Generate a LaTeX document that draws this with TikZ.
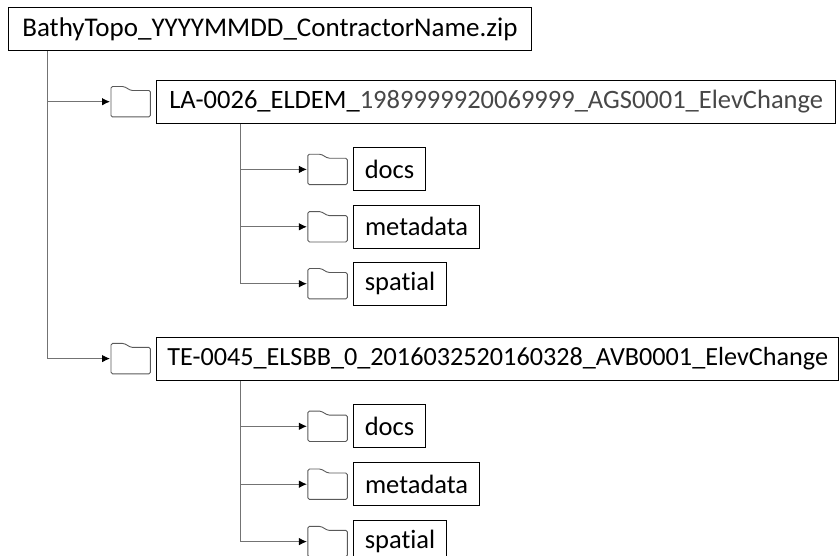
\documentclass[tikz,border=0pt]{standalone}
\usepackage{fontspec}
\setmainfont[Ligatures=NoCommon]{Carlito}
\usepackage{xcolor}
\colorlet{LINKCOLOR}{black!55}
\colorlet{FOLDERCOLOR}{black!65}
\colorlet{DATECOLOR}{black!72}
\usepackage{tikz}
\usetikzlibrary{arrows.meta,positioning}
\tikzset{
  box-style/.style = {
    rectangle, draw, line width=1pt,
    minimum height=43pt,
    inner xsep=0pt, inner ysep=0pt,
    minimum width=#1,
    font=\fontsize{26.5}{26.5}\selectfont
  },
  folder-style/.style = {
    rectangle, inner sep=0pt,
    minimum width=39pt, minimum height=30pt,
    append after command = {
      \pgfextra{
        \draw[FOLDERCOLOR,line width=0.9pt,rounded corners=1.5pt]
          (\tikzlastnode.south west) -- (\tikzlastnode.north west)
          -- ([xshift=13pt]\tikzlastnode.north west)
          -- ([xshift=20pt,yshift=-4pt]\tikzlastnode.north west)
          -- ([yshift=-4pt]\tikzlastnode.north east)
          -- (\tikzlastnode.south east) -- cycle;
      }
    }
  },
  link-style/.style = {
    draw=LINKCOLOR, line width=0.9pt,
    -{Latex[black,length=8pt,width=7.5pt]}, shorten >=1pt
  },
  trunk-style/.style = {
    draw=LINKCOLOR, line width=0.9pt
  }
}

\begin{document}
\begin{tikzpicture}[x=1pt,y=1pt]
    \useasboundingbox (0,0) rectangle (839,-555);

    %%% zip file
    \node[box-style=523pt,anchor=north west,font=\fontsize{27}{27}\selectfont] (root) at (8,-7) {BathyTopo\_YYYYMMDD\_ContractorName.zip};

    %%% directory - 1
    \node[folder-style,below right=35.5pt and 103pt of root.south west] (fold1) {};
    \node[box-style=679.5pt,right=5.5pt of fold1] (dir1) {LA-0026\_ELDEM\_\textcolor{DATECOLOR}{1989999920069999\_AGS0001\_ElevChange}};
    \node[folder-style,below right=30.5pt and 152pt of dir1.south west] (fold1a) {};
    \node[box-style=71.5pt,right=6pt of fold1a] (docs1) {docs};
    \node[folder-style,below=27pt of fold1a] (fold1b) {};
    \node[box-style=125.5pt,right=6pt of fold1b] (meta1) {metadata};
    \node[folder-style,below=26.5pt of fold1b] (fold1c) {};
    \node[box-style=92.5pt,right=6pt of fold1c] (spat1) {spatial};

    %%% directory - 2
    \node[folder-style,below=44.5pt of fold1c.south -| fold1] (fold2) {};
    \node[box-style=682.5pt,right=5.5pt of fold2,font=\fontsize{26.2}{26.2}\selectfont] (dir2) {TE-0045\_ELSBB\_0\_2016032520160328\_AVB0001\_ElevChange};
    \node[folder-style,below right=30.5pt and 152pt of dir2.south west] (fold2a) {};
    \node[box-style=71.5pt,right=6pt of fold2a] (docs2) {docs};
    \node[folder-style,below=27.5pt of fold2a] (fold2b) {};
    \node[box-style=125.5pt,right=6pt of fold2b] (meta2) {metadata};
    \node[folder-style,below=27pt of fold2b] (fold2c) {};
    \node[box-style=92.5pt,right=6pt of fold2c] (spat2) {spatial};

    %%% branch points
    \coordinate (trunk) at ([xshift=39.5pt]root.south west);
    \coordinate (branch1) at ([xshift=84.5pt]dir1.south west);
    \coordinate (branch2) at ([xshift=84.5pt]dir2.south west);

    %%% arrows
    % zip file to directories
    \path[trunk-style] (trunk) -- (trunk |- fold2.west);
    \path[link-style] (trunk |- fold1.west) -- (fold1.west);
    \path[link-style] (trunk |- fold2.west) -- (fold2.west);
    % directory-1 to its folders
    \path[trunk-style] (branch1) -- (branch1 |- fold1c.west);
    \path[link-style] (branch1 |- fold1a.west) -- (fold1a.west);
    \path[link-style] (branch1 |- fold1b.west) -- (fold1b.west);
    \path[link-style] (branch1 |- fold1c.west) -- (fold1c.west);
    % directory-2 to its folders
    \path[trunk-style] (branch2) -- (branch2 |- fold2c.west);
    \path[link-style] (branch2 |- fold2a.west) -- (fold2a.west);
    \path[link-style] (branch2 |- fold2b.west) -- (fold2b.west);
    \path[link-style] (branch2 |- fold2c.west) -- (fold2c.west);
\end{tikzpicture}
\end{document}
